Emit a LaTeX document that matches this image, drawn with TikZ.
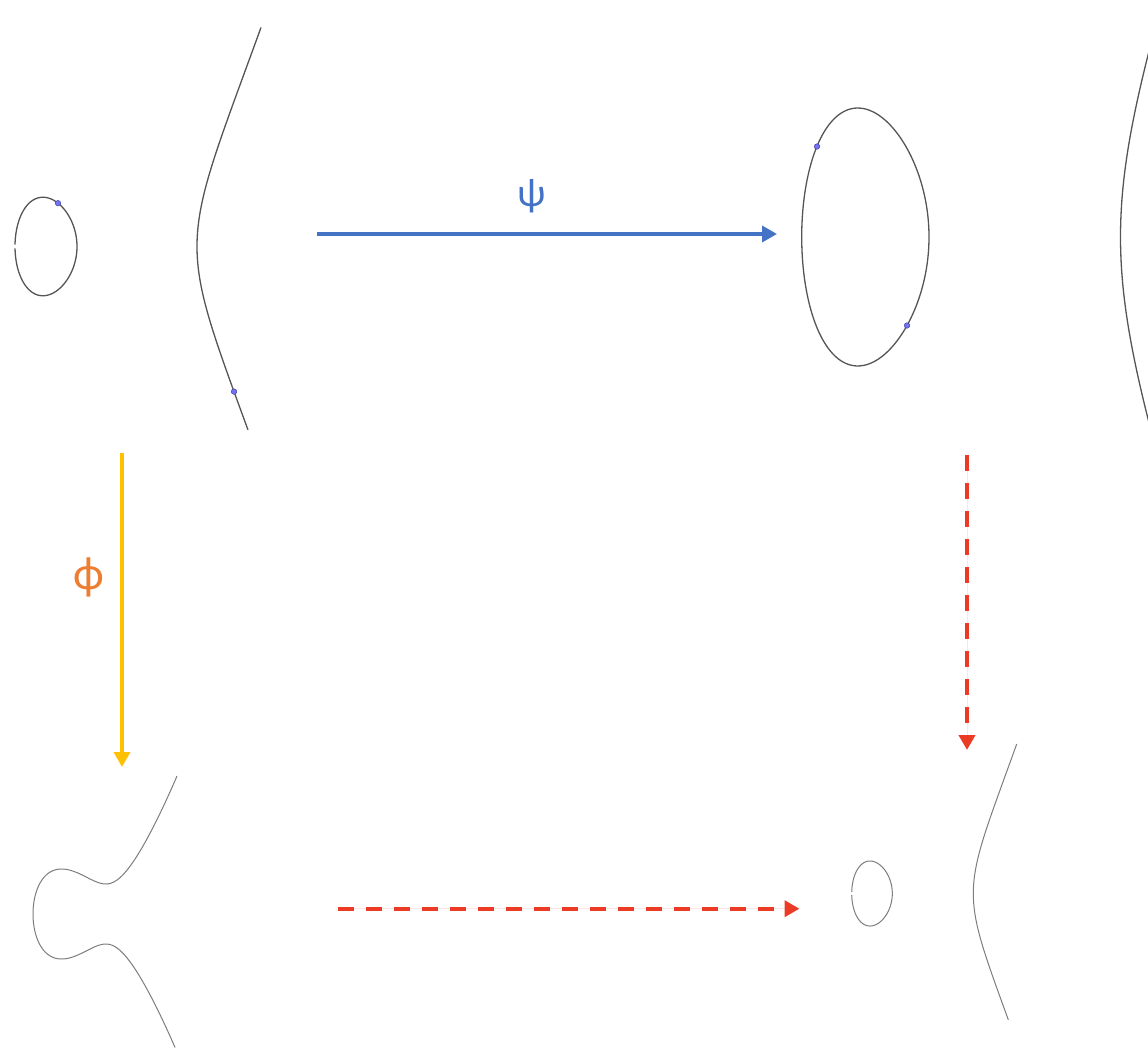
\documentclass[tikz,border=0pt]{standalone}
\usepackage{fontspec}
\newfontfamily\labfont{Carlito}
\usetikzlibrary{arrows.meta}
\definecolor{psiblue}{RGB}{68,114,196}
\definecolor{phiorange}{RGB}{237,125,49}
\definecolor{arryellow}{RGB}{255,192,0}
\definecolor{arrred}{RGB}{235,59,36}
\definecolor{curvedark}{RGB}{85,85,85}
\definecolor{curvelight}{RGB}{125,125,125}
\definecolor{dotfill}{RGB}{115,115,245}
\definecolor{dotdraw}{RGB}{60,60,170}
\tikzset{
  curveA/.style={draw=curvedark, line width=1.3pt},
  curveB/.style={draw=curvelight, line width=1pt},
  ptdot/.style={circle, fill=dotfill, draw=dotdraw, line width=0.5pt, inner sep=0pt, minimum size=5.5pt},
  arr/.style={line width=3.5pt, -{Triangle[length=15pt,width=16pt]}},
  redarr/.style={arr, line width=4pt, draw=arrred, dash pattern=on 16pt off 12pt},
  lab/.style={font=\labfont\fontsize{40}{40}\selectfont, inner sep=0pt},
  labbig/.style={font=\labfont\fontsize{47}{47}\selectfont, inner sep=0pt}
}
\begin{document}
\begin{tikzpicture}[x=1pt,y=-1pt]
\useasboundingbox (0,0) rectangle (1148,1048);
% ---- top-left curve: oval + branch
\draw[curveA] plot[domain=2:358, samples=140, smooth, variable=\t]
  ({15+31*(1-cos(\t))}, {246.5-31*sin(\t)*sqrt(0.01655*(182-31*(1-cos(\t))))});
\draw[curveA] plot[domain=-8:7.14, samples=120, smooth, variable=\u]
  ({197+\u*\u}, {246.5+\u*sqrt(0.01655*(182+\u*\u)*(120+\u*\u))});
\node[ptdot] (p1) at (58,203.2) {};
\node[ptdot] (p2) at (234,391.6) {};
% ---- top-right curve
\draw[curveA] plot[domain=0:360, samples=160, smooth, variable=\t]
  ({801.7+63.65*(1-cos(\t))}, {237-63.65*sin(\t)*sqrt(0.01586*(318.8-63.65*(1-cos(\t))))});
\draw[curveA] plot[domain=-5.4:5.4, samples=120, smooth, variable=\u]
  ({1120.5+\u*\u}, {237+\u*sqrt(0.01586*(318.8+\u*\u)*(191.5+\u*\u))});
\node[ptdot] (p3) at (817,146.5) {};
\node[ptdot] (p4) at (907,325.5) {};
% ---- bottom-left curve
\draw[curveB] plot[domain=-12:11.92, samples=160, smooth, variable=\u]
  ({33+\u*\u}, {914+\u*sqrt(0.02605*((\u*\u-76.08)*(\u*\u-76.08)+463.8))});
% ---- bottom-right curve
\draw[curveB] plot[domain=2.5:357.5, samples=120, smooth, variable=\t]
  ({851.7+20.3*(1-cos(\t))}, {893.5-20.3*sin(\t)*sqrt(0.02507*(121.6-20.3*(1-cos(\t))))});
\draw[curveB] plot[domain=-6.588:5.916, samples=120, smooth, variable=\u]
  ({973.3+\u*\u}, {893.5+\u*sqrt(0.02507*(121.6+\u*\u)*(81+\u*\u))});
% ---- arrow end points
\coordinate (psiS) at (317,234);
\coordinate (psiE) at (777,234);
\coordinate (phiS) at (122,453);
\coordinate (phiE) at (122,767);
\coordinate (rvS) at (967,455);
\coordinate (rvE) at (967,750);
\coordinate (rhS) at (338,908.7);
\coordinate (rhE) at (799.5,908.7);
\draw[arr, draw=psiblue, fill=psiblue] (psiS) -- (psiE);
\draw[arr, draw=arryellow, fill=arryellow] (phiS) -- (phiE);
\draw[redarr, fill=arrred] (rvS) -- (rvE);
\draw[redarr, fill=arrred] (rhS) -- (rhE);
% ---- labels
\node[lab, text=psiblue] (psi) at (532,196) {ψ};
\node[labbig, text=phiorange] (phi) at (89,577) {ϕ};
\end{tikzpicture}
\end{document}
